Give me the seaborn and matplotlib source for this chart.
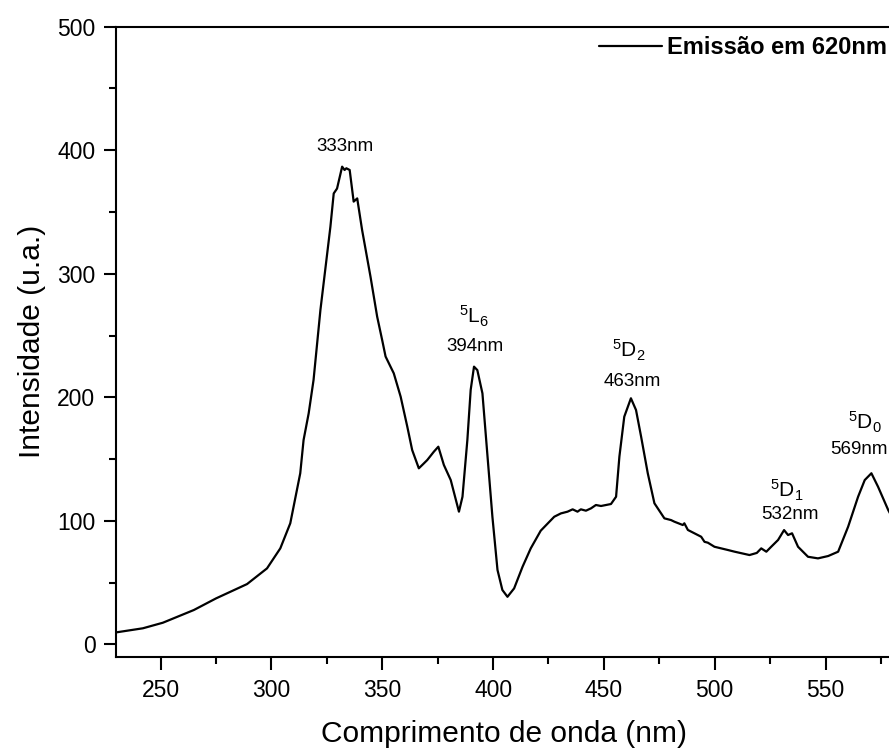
import numpy as np
import pandas as pd
import matplotlib
matplotlib.use("Agg")
import matplotlib.pyplot as plt
import seaborn as sns

# Excitation spectrum (emission monitored at 620 nm)
wavelength = [230, 242, 251, 265, 275, 289, 298, 304, 308.5, 313, 314.5, 316.8, 319,
              322.1, 326.6, 328.1, 329.6, 331.9, 333, 333.8, 335.3, 337.1, 338.7, 340.9,
              344.7, 347.7, 350, 351.5, 355.2, 358.3, 361.3, 363.5, 366.5, 368.5, 370.3,
              373.3, 375.3, 377.8, 380.9, 384.6, 386.2, 388.4, 389.9, 391.4, 392.9, 395.2,
              397.5, 399.7, 402, 404.2, 406.5, 409.5, 413.3, 417, 421.5, 427.6, 430.6,
              433.6, 435.9, 438.1, 439.6, 441.9, 444.2, 446.4, 448.7, 453.2, 455.5, 457,
              459.2, 462.2, 464.5, 466.8, 469.8, 472.8, 477.3, 480.3, 481.8, 485.6, 486.3,
              487.9, 493.9, 495.4, 496.9, 499.9, 505.9, 509,
              515.7, 519, 521, 523.3, 525.5, 528.6, 531.3, 533.1, 534.9, 537.6, 542.1,
              546.6, 551.2, 555.7, 560.2, 564.7, 567.7, 570.7, 573.7, 578.3, 580]
intensity = [9.7, 13, 17.5, 27.8, 37.2, 48.8, 61.5, 77.7, 98, 138.5, 165.4, 187, 214,
             270.7, 338, 365, 369, 386.7, 384, 385.4, 384, 358.4, 361, 335.5,
             297.6, 265.3, 246, 233, 219.4, 200.5, 176.2, 157.3, 142.5, 146, 149.2,
             156, 160, 145.2, 133, 107.4, 119.5, 165.4, 206, 224.8, 222, 203.2,
             152, 103.3, 60.2, 44, 38.5, 45.3, 62.8, 77.7, 92, 103.3, 106,
             107.4, 109.3, 107.4, 109.3, 108.2, 110.1, 112.8, 112, 113.6, 119.5, 152,
             184.3, 199.2, 189.7, 168.1, 138.5, 114.2, 102, 100.6, 99.3, 96.6, 98,
             92.6, 87.1, 83, 82.3, 79, 76.4, 75,
             72.3, 74, 77.7, 75, 79, 84.5, 92.5, 88.5, 89.9, 79, 70.9,
             69.6, 71.5, 75, 95.2, 119.5, 133, 138.5, 127.6, 108.7, 103]

# Peak annotations: (x, y, text)
peak_x = [333.4, 391.8, 462.7, 534.0, 565.0]
peak_y = [402.8, 240.8, 213.0, 105.5, 158.0]
peak_nm = ["333nm", "394nm", "463nm", "532nm", "569nm"]
term_x = [391.5, 461.3, 532.7, 567.8]
term_y = [265.8, 238.0, 125.0, 180.0]
term_lbl = [r"$^5$L$_6$", r"$^5$D$_2$", r"$^5$D$_1$", r"$^5$D$_0$"]

df = pd.DataFrame({"wl": wavelength, "I": intensity})

sns.set_style("white")
plt.rcParams["font.family"] = ["Liberation Sans", "DejaVu Sans"]
plt.rcParams["mathtext.fontset"] = "custom"
plt.rcParams["mathtext.rm"] = "Liberation Sans"
plt.rcParams["mathtext.default"] = "regular"
plt.rcParams["text.color"] = "black"
plt.rcParams["axes.labelcolor"] = "black"
plt.rcParams["xtick.color"] = "black"
plt.rcParams["ytick.color"] = "black"

fig = plt.figure(figsize=(8.89, 7.51), dpi=100)
ax = fig.add_axes([116.3 / 889, 1 - 656.7 / 751, (892 - 116.3) / 889, (656.7 - 26.7) / 751])

sns.lineplot(data=df, x="wl", y="I", ax=ax, color="black", linewidth=1.6,
             label="Emissão em 620nm", sort=False)

ax.set_xlim(230, 580)
ax.set_ylim(-10, 500)
ax.set_xticks([250, 300, 350, 400, 450, 500, 550])
ax.set_xticks(np.arange(275, 580, 50), minor=True)
ax.set_yticks([0, 100, 200, 300, 400, 500])
ax.set_yticks(np.arange(50, 500, 100), minor=True)
ax.tick_params(axis="both", which="major", direction="out", length=9, width=1.5,
               labelsize=16.5, color="black", labelcolor="black", bottom=True, left=True)
ax.tick_params(axis="x", which="major", pad=7)
ax.tick_params(axis="y", which="major", pad=6)
ax.tick_params(axis="both", which="minor", direction="out", length=5, width=1.5,
               color="black", bottom=True, left=True)
for side in ["left", "bottom", "top", "right"]:
    ax.spines[side].set_linewidth(1.5)
    ax.spines[side].set_color("black")

ax.set_xlabel("Comprimento de onda (nm)", fontsize=21.5, labelpad=13)
ax.set_ylabel("Intensidade (u.a.)", fontsize=21.5, labelpad=8)

for x, y, t in zip(peak_x, peak_y, peak_nm):
    ax.text(x, y, t, fontsize=13.5, ha="center", va="center")
for x, y, t in zip(term_x, term_y, term_lbl):
    ax.text(x, y, t, fontsize=15, ha="center", va="center")

leg = ax.legend(loc="upper right", bbox_to_anchor=(887 / 889, 1 - 36 / 751),
                bbox_transform=fig.transFigure, frameon=False,
                handlelength=2.7, handletextpad=0.2, borderaxespad=0, borderpad=0,
                prop={"weight": "bold", "size": 17})
for line in leg.get_lines():
    line.set_linewidth(1.6)

fig.savefig("out.png", dpi=100)
